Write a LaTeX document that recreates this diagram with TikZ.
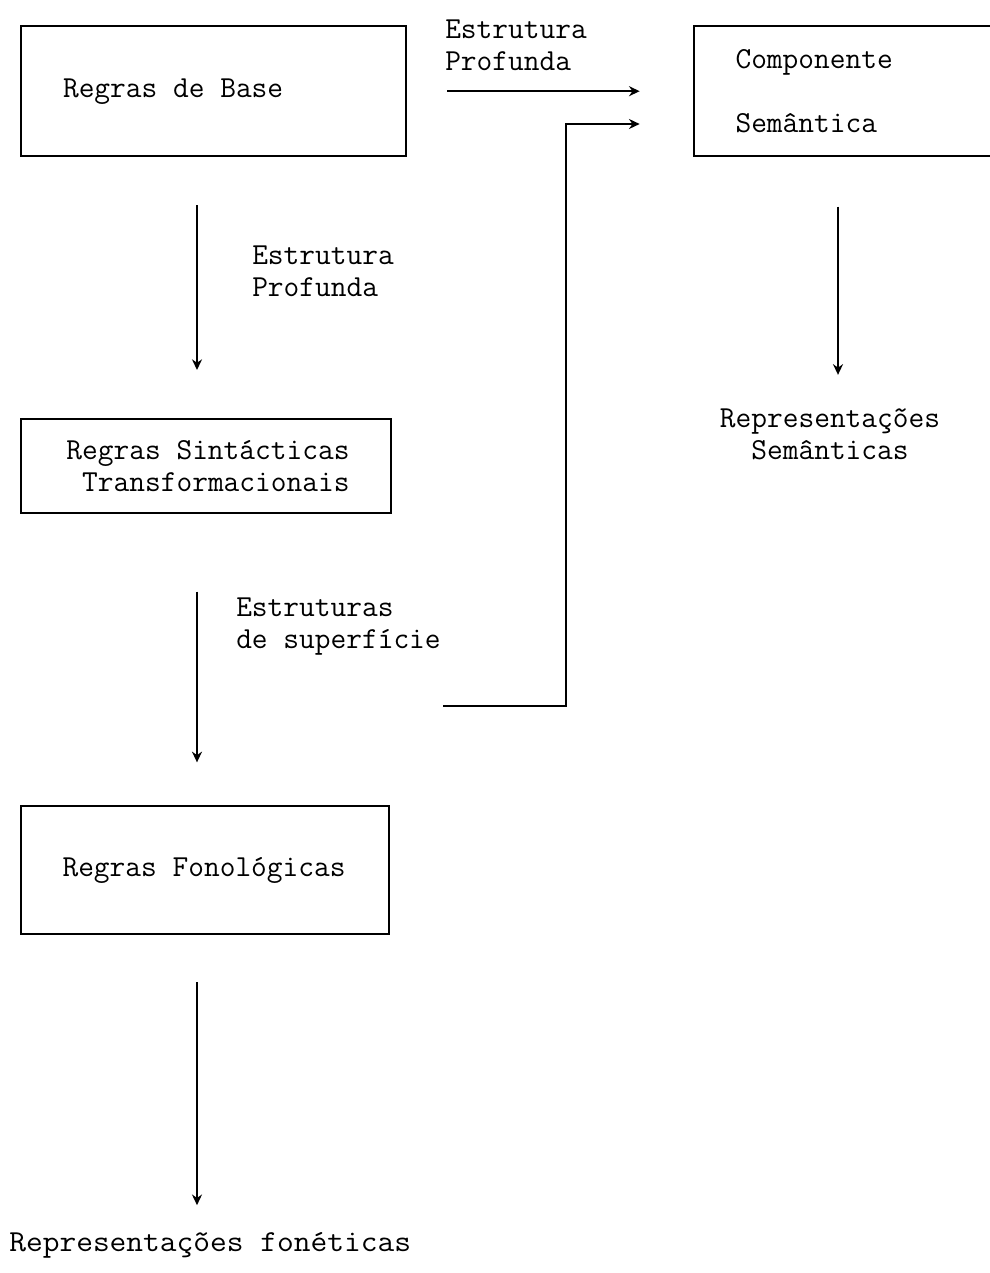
\documentclass[tikz,border=0pt]{standalone}
\usepackage{fontspec}
\usetikzlibrary{arrows.meta, positioning, calc}

\begin{document}
\begin{tikzpicture}[
  x=0.75pt, y=-0.75pt,
  every node/.style={font=\ttfamily\fontsize{22.9}{24}\selectfont, inner sep=0pt},
  box/.style={draw, line width=1.8pt, anchor=north west, inner xsep=31pt,
    execute at begin node={\spaceskip=0pt\xspaceskip=0pt}},
  lbl/.style={anchor=west, align=left},
  arr/.style={-{Stealth[length=8pt,width=7.5pt]}, line width=1.8pt}
]
  \useasboundingbox (0,0) rectangle (989,1273);
  % boxes
  \node[box, minimum width=288.75pt, minimum height=97.5pt, text width=226pt, align=left] (base) at (20,25) {Regras de Base};
  \node[box, minimum width=277.5pt, minimum height=70.5pt, text width=215pt, align=right] (sint) at (20,418) {Regras Sintácticas\\Transformacionais};
  \node[box, minimum width=276pt, minimum height=96pt, text width=214pt, align=left] (fon) at (20,805) {Regras Fonológicas};
  \node[box, minimum width=240pt, minimum height=97.5pt, text width=178pt, align=left] (comp) at (693,25) {Componente\\[24pt]Semântica};
  % labels
  \node[lbl] (ep1) at (252,271) {Estrutura\\Profunda};
  \node[lbl] (es) at (236,627) {Estruturas\\de superfície};
  \node[lbl] (ep2) at (445,45) {Estrutura\\Profunda};
  \node[lbl] (rf) at (9,1245) {\scalebox{1.065}[1]{Representações fonéticas}};
  \node[align=center] (rs) at (830,434) {Representações\\Semânticas};
  % arrows
  \coordinate (axis) at (197,0);
  \coordinate (raxis) at (838,0);
  \draw[arr, shorten <=36pt, shorten >=36pt] (base.south -| axis) -- (sint.north -| axis);
  \draw[arr, shorten <=58pt, shorten >=32pt] (sint.south -| axis) -- (fon.north -| axis);
  \draw[arr, shorten <=35pt, shorten >=20pt] (fon.south -| axis) -- (rf.north -| axis);
  \draw[arr, shorten <=37pt, shorten >=25pt] (comp.south -| raxis) -- (rs.north -| raxis);
  \draw[arr, shorten <=30pt, shorten >=40pt] (base.east) -- (comp.west);
  \coordinate (ss) at (443,706);
  \coordinate (bend) at (566,124);
  \draw[arr, shorten >=40pt] (ss) -| (bend) -- (bend -| comp.west);
\end{tikzpicture}
\end{document}
